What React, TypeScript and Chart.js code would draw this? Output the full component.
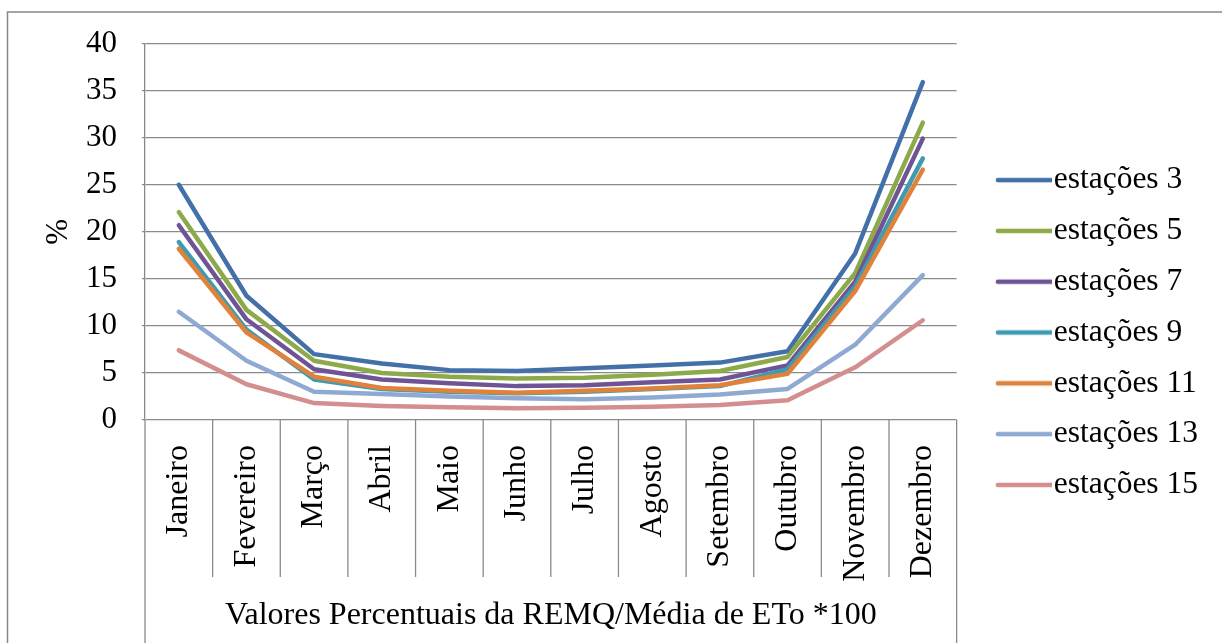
import React, { useEffect, useRef } from "react";
import { Chart, registerables } from "chart.js";

Chart.register(...registerables);

const months = ["Janeiro", "Fevereiro", "Março", "Abril", "Maio", "Junho", "Julho", "Agosto", "Setembro", "Outubro", "Novembro", "Dezembro"];
const seriesNames = ["estações 3", "estações 5", "estações 7", "estações 9", "estações 11", "estações 13", "estações 15"];
const est3 = [25.0, 13.2, 7.0, 6.0, 5.3, 5.2, 5.5, 5.8, 6.1, 7.3, 17.7, 35.9];
const est5 = [22.1, 11.7, 6.3, 5.0, 4.6, 4.4, 4.5, 4.8, 5.2, 6.7, 15.6, 31.6];
const est7 = [20.7, 10.7, 5.4, 4.3, 3.9, 3.6, 3.7, 4.0, 4.3, 5.8, 14.7, 29.9];
const est9 = [18.9, 9.6, 4.3, 3.3, 3.0, 2.85, 3.0, 3.3, 3.6, 5.4, 14.2, 27.8];
const est11 = [18.2, 9.3, 4.6, 3.4, 3.1, 2.9, 3.1, 3.35, 3.7, 4.9, 13.7, 26.6];
const est13 = [11.5, 6.3, 3.0, 2.75, 2.5, 2.3, 2.2, 2.4, 2.7, 3.3, 8.0, 15.4];
const est15 = [7.4, 3.8, 1.8, 1.5, 1.35, 1.25, 1.3, 1.4, 1.6, 2.1, 5.6, 10.6];
const seriesValues = [est3, est5, est7, est9, est11, est13, est15];
const colors = ["#4470AA", "#8CAA4A", "#6E5494", "#3E9BB2", "#E0823A", "#8FAAD2", "#D38F8F"];
const yTicks = [0, 5, 10, 15, 20, 25, 30, 35, 40];
const yTitle = "%";
const xTitle = "Valores Percentuais da REMQ/Média de ETo *100";

const FONT = "'Liberation Serif', 'Times New Roman', serif";
const GRID = "#8a8a8a";

function makeLegendLine(color: string): HTMLCanvasElement {
  const c = document.createElement("canvas");
  c.width = 90;
  c.height = 10;
  const ctx = c.getContext("2d")!;
  ctx.strokeStyle = color;
  ctx.lineWidth = 4.6;
  ctx.lineCap = "round";
  ctx.beginPath();
  ctx.moveTo(36, 5);
  ctx.lineTo(89, 5);
  ctx.stroke();
  return c;
}

const decorPlugin = {
  id: "decor",
  afterDraw(chart: any) {
    const { ctx, chartArea } = chart;
    const x = chart.scales.x;
    const n = months.length;
    const step = (x.right - x.left) / n;
    ctx.save();
    ctx.strokeStyle = GRID;
    ctx.lineWidth = 1.3;
    for (let i = 0; i <= n; i++) {
      const px = x.left + i * step;
      ctx.beginPath();
      ctx.moveTo(px, chartArea.bottom);
      ctx.lineTo(px, i === 0 || i === n ? chart.height : chartArea.bottom + 157);
      ctx.stroke();
    }
    ctx.strokeStyle = "#888888";
    ctx.lineWidth = 1.5;
    ctx.beginPath();
    ctx.moveTo(7.5, chart.height);
    ctx.lineTo(7.5, 12);
    ctx.lineTo(chart.width, 12);
    ctx.stroke();
    ctx.restore();
  },
};

export default function App() {
  const ref = useRef<HTMLCanvasElement | null>(null);
  useEffect(() => {
    document.body.style.margin = "0";
    const images = colors.map(makeLegendLine);
    const chart = new Chart(ref.current!, {
      type: "line",
      data: {
        labels: months,
        datasets: seriesNames.map((name, i) => ({
          label: name,
          data: seriesValues[i],
          borderColor: colors[i],
          backgroundColor: colors[i],
          borderWidth: 4.5,
          borderCapStyle: "round",
          borderJoinStyle: "round",
          pointRadius: 0,
          tension: 0,
          order: seriesNames.length - i,
        })),
      },
      options: {
        animation: false,
        responsive: false,
        layout: { padding: { left: 10, right: 14, top: 22, bottom: 0 } },
        plugins: {
          tooltip: { enabled: false },
          title: {
            display: true,
            text: "",
            fullSize: false,
            font: { size: 10 },
            padding: { top: 0, bottom: 9 },
          },
          legend: {
            position: "right",
            labels: {
              usePointStyle: true,
              pointStyleWidth: 62,
              padding: 19.3,
              color: "#000",
              font: { family: FONT, size: 31.5 },
              sort: (a: any, b: any) => a.datasetIndex - b.datasetIndex,
              generateLabels: (c: any) => {
                const items = (Chart.defaults.plugins.legend.labels as any).generateLabels(c);
                return items.map((it: any) => ({ ...it, pointStyle: images[it.datasetIndex] }));
              },
            },
          },
        },
        scales: {
          x: {
            type: "category",
            offset: true,
            grid: { display: false },
            border: { display: false },
            afterFit: (s: any) => {
              s.height = 223;
            },
            ticks: {
              autoSkip: false,
              maxRotation: 90,
              minRotation: 90,
              padding: 17,
              color: "#000",
              font: { family: FONT, size: 32 },
            },
            title: {
              display: true,
              text: xTitle,
              color: "#000",
              font: { family: FONT, size: 32 },
              padding: { top: 23, bottom: 8 },
            },
          },
          y: {
            min: 0,
            max: 40,
            afterBuildTicks: (s: any) => {
              s.ticks = yTicks.map((v) => ({ value: v }));
            },
            afterFit: (s: any) => {
              s.width = 135;
            },
            grid: { color: GRID, lineWidth: 1.3, tickLength: 3 },
            border: { display: true, color: GRID, width: 1.3 },
            ticks: {
              padding: 25,
              color: "#000",
              font: { family: FONT, size: 31 },
            },
            title: {
              display: true,
              text: yTitle,
              color: "#000",
              font: { family: FONT, size: 31 },
              padding: { top: 30, bottom: 7 },
            },
          },
        },
      },
      plugins: [decorPlugin],
    } as any);
    return () => chart.destroy();
  }, []);
  return (
    <div style={{ width: 1222, height: 643, position: "relative" }}>
      <canvas ref={ref} width={1222} height={643} style={{ display: "block" }} />
    </div>
  );
}
